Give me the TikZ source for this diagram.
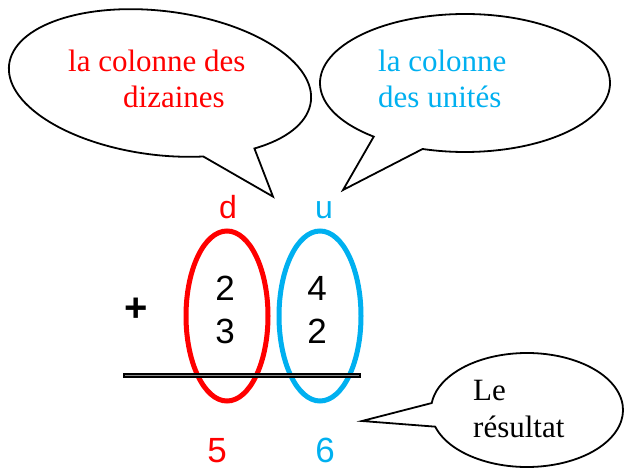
\documentclass[tikz,border=0pt]{standalone}
\usepackage{fontspec}
\usetikzlibrary{calc}
\setmainfont{Liberation Serif}
\newfontfamily\arialf{Liberation Sans}
\definecolor{cyanu}{RGB}{0,176,240}
\begin{document}
\begin{tikzpicture}[x=1pt,y=-1pt,
  bubble/.style={draw=black,line width=1.8pt,fill=white,line join=miter},
  btext/.style={anchor=base west,inner sep=0pt,font=\fontsize{31}{36}\selectfont},
  digit/.style={anchor=base,inner sep=0pt,font=\arialf\fontsize{35}{40}\selectfont},
  colring/.style={line width=5pt,fill=white}]
\useasboundingbox (0,0) rectangle (624,468);
% left bubble
\draw[bubble, rotate around={-7:(160,83)}] (212,150.7) -- (286,182) -- (261.7,136.5)
  arc[start angle=48, end angle=-290, x radius=152, y radius=72] -- cycle;
\node[btext,text=red] (t1) at (68,72) {la colonne des};
\node[btext,text=red] (t2) at (123,108) {dizaines};
% right bubble
\draw[bubble] ($(465,83)+(107:145 and 69)$) -- (343,190)
  -- ($(465,83)+(129:145 and 69)$) arc[start angle=129, end angle=467, x radius=145, y radius=69] -- cycle;
\node[btext,text=cyanu] (t3) at (378,72) {la colonne};
\node[btext,text=cyanu] (t4) at (378,108) {des unités};
% bottom right bubble
\draw[bubble] ($(527,410)+(187:96 and 57)$) -- (362,421)
  -- ($(527,410)+(163:96 and 57)$) arc[start angle=163, end angle=-173, x radius=96, y radius=57] -- cycle;
\node[btext] (t5) at (473,400) {Le};
\node[btext] (t6) at (473,437) {résultat};
% column labels
\node[digit,text=red,font=\arialf\fontsize{32}{36}\selectfont] (d) at (228,218) {d};
\node[digit,text=cyanu,font=\arialf\fontsize{32}{36}\selectfont] (u) at (324,218) {u};
% rings
\draw[colring,draw=red] (227,316) ellipse[x radius=41, y radius=85];
\draw[colring,draw=cyanu] (320,316) ellipse[x radius=41, y radius=85];
% rule
\draw[line width=5pt] (123,375) -- (361,375);
\draw[line width=0.5pt,black!45] (125,374.8) -- (359,374.8);
% digits
\node[digit] (a1) at (225,300) {2};
\node[digit] (a2) at (225,343) {3};
\node[digit] (b1) at (317,300) {4};
\node[digit] (b2) at (317,343) {2};
\node[digit,font=\arialf\bfseries\fontsize{40}{44}\selectfont] (plus) at (136,321) {+};
\node[digit,text=red] (r1) at (217,462) {5};
\node[digit,text=cyanu] (r2) at (325,462) {6};
\end{tikzpicture}
\end{document}
